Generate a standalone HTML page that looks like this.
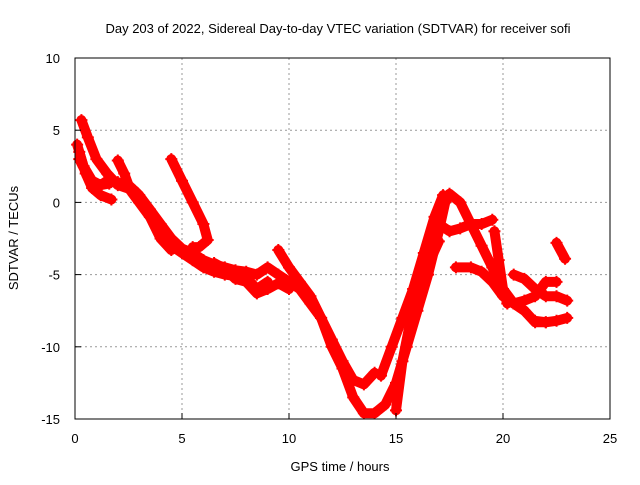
<!DOCTYPE html>
<html><head><meta charset="utf-8"><style>
body{margin:0;background:#fff;}
svg text{font-family:"Liberation Sans",sans-serif;font-size:13px;fill:#000;}
</style></head><body>
<svg id="chart" width="640" height="480" xmlns="http://www.w3.org/2000/svg">
<text x="338" y="33" text-anchor="middle" font-size="14">Day 203 of 2022, Sidereal Day-to-day VTEC variation (SDTVAR) for receiver sofi</text>
<g id="grid"></g>
<g id="series"></g>
<rect x="75" y="58" width="535" height="361" fill="none" stroke="#000" stroke-width="1"/>
<g id="ticks"></g>
<text x="340" y="471" text-anchor="middle" font-size="14">GPS time / hours</text>
<text transform="translate(18,238) rotate(-90)" text-anchor="middle" font-size="14">SDTVAR / TECUs</text>
</svg>
<script>
const xTicks=[0,5,10,15,20,25];
const yTicks=[10,5,0,-5,-10,-15];
const trackA=[[0.3,5.7],[0.6,4.5],[1,3],[1.5,2],[2,1.2],[2.8,0.8],[3.5,-0.5],[4,-1.5],[4.5,-2.5],[5,-3.2],[5.5,-3.5],[6,-4],[6.5,-4.3],[7,-4.5],[7.5,-4.7],[8,-4.8],[8.5,-5],[9,-4.5],[9.5,-5],[10,-5.5],[10.5,-6],[11,-7],[11.5,-8],[12,-9.5],[12.5,-11],[13,-12.3],[13.5,-12.6],[14,-11.8]];
const trackB=[[0.2,3.5],[0.5,2],[0.8,1],[1.2,0.5],[1.7,0.2]];
const trackC=[[0.1,4],[0.4,2.5],[0.8,1.5],[1.2,1.2],[1.6,1.3]];
const trackD=[[2,2.9],[2.3,2],[2.5,1.2],[3,0.5],[3.5,-0.5],[4,-1.8],[4.5,-3],[5,-3.5],[5.5,-4],[6,-4.5],[6.5,-4.8],[7,-5],[8,-5.2],[8.5,-6],[9,-5.5]];
const trackE=[[4.5,3],[5,1.5],[5.5,0],[6,-1.5],[6.2,-2.6],[5.8,-3.1],[5.5,-3.1]];
const trackF=[[9.5,-3.3],[10,-4.5],[10.5,-5.5],[11,-6.5],[11.5,-8],[12,-10],[12.5,-11.5],[13,-13.5],[13.5,-14.6],[14,-14.6],[14.5,-14],[15,-12.5],[15.5,-10],[16,-7.5],[16.5,-5],[17,-2],[17.3,0],[17.5,0.6],[18,0],[18.5,-1.5],[19,-3],[19.5,-4.5],[20,-6],[20.5,-7],[21,-7.5],[21.5,-8.3],[22,-8.3]];
const trackG=[[15,-14.4],[15.3,-11],[15.7,-8],[16.2,-5.5],[16.6,-4],[17,-2.7]];
const trackH=[[14.3,-12],[14.8,-10],[15.3,-8],[15.8,-6],[16.3,-3.5],[16.8,-1],[17.2,0.5]];
const trackI=[[17,-1.5],[17.5,-2],[18,-1.8],[18.5,-1.5],[19,-1.5],[19.5,-1.2]];
const trackJ=[[17.8,-4.5],[18.5,-4.5],[19,-4.8],[19.5,-5.5],[20,-6.5],[20.5,-7],[21,-7.5]];
const trackK=[[20.5,-5],[21,-5.3],[21.5,-6],[22,-6.5],[22.5,-6.5],[23,-6.8]];
const trackL=[[20.5,-7],[21,-6.8],[21.5,-6.5],[22,-5.5],[22.5,-5.5]];
const trackM=[[21.5,-8.2],[22,-8.3],[22.5,-8.2],[23,-8]];
const trackN=[[22.5,-2.8],[22.9,-3.9]];
const trackO=[[19.6,-2],[19.8,-4],[20,-6],[20.2,-7]];
const trackP=[[6.5,-4.2],[7,-4.6],[7.5,-5.3],[8,-5.5],[8.5,-6.3],[9,-6],[9.5,-5.6],[10,-6]];
const trackQ=[[0.2,3],[0.6,1.8],[1,1],[1.5,1.5],[2,1.4],[2.5,1],[3,0],[3.5,-1],[4,-2.5],[4.5,-3.3]];
const tracks=[trackA,trackB,trackC,trackD,trackE,trackF,trackG,trackH,trackI,trackJ,trackK,trackL,trackM,trackN,trackO,trackP,trackQ];
const NS="http://www.w3.org/2000/svg";
const X=v=>75+v*535/25, Y=v=>58+(10-v)*361/25;
const grid=document.getElementById('grid'), ticks=document.getElementById('ticks'), ser=document.getElementById('series');
function mk(t,a,p){const e=document.createElementNS(NS,t);for(const k in a)e.setAttribute(k,a[k]);p.appendChild(e);return e;}
xTicks.forEach(v=>{
 if(v>0&&v<25){const g=mk('line',{x1:X(v),x2:X(v),y1:58,y2:419,stroke:'#999','stroke-dasharray':'2,3'},grid);
 
 }
 mk('line',{x1:X(v),x2:X(v),y1:419,y2:413,stroke:'#000'},ticks);
 const t=mk('text',{x:X(v),y:443,'text-anchor':'middle'},ticks);t.textContent=v;
 
 
});
yTicks.forEach(v=>{
 if(v<10&&v>-15){const g=mk('line',{x1:75,x2:610,y1:Y(v),y2:Y(v),stroke:'#999','stroke-dasharray':'2,3'},grid);
 
 }
 mk('line',{x1:75,x2:81,y1:Y(v),y2:Y(v),stroke:'#000'},ticks);
 const t=mk('text',{x:60,y:Y(v)+5,'text-anchor':'end'},ticks);t.textContent=v;
 
 
});
tracks.forEach((tr,i)=>{
 const pl=mk('polyline',{points:tr.map(p=>X(p[0])+','+Y(p[1])).join(' '),fill:'none',stroke:'#f00','stroke-width':10,'stroke-linejoin':'round','stroke-linecap':'round'},ser);
 
 
 tr.forEach(p=>{
  const m=mk('path',{d:`M${X(p[0])-6},${Y(p[1])}h12M${X(p[0])},${Y(p[1])-6}v12`,stroke:'#f00','stroke-width':2},ser);
  
  
 });
});
</script>
</body></html>
